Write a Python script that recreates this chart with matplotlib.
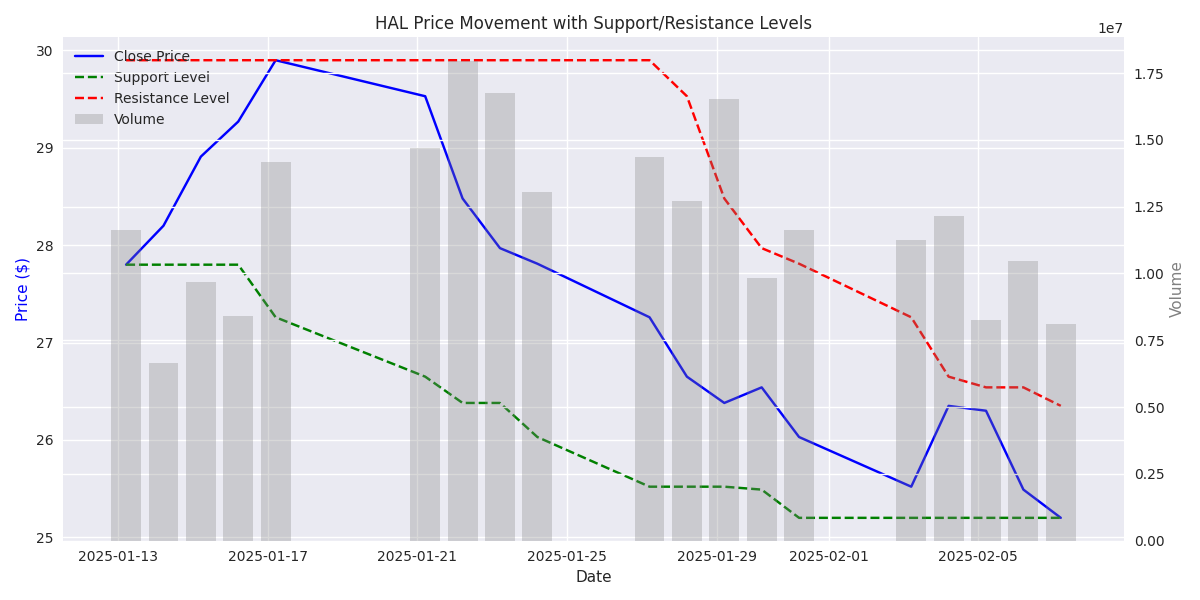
import matplotlib.pyplot as plt
import pandas as pd

# trading days (timestamps come in at 05:00 UTC)
dates = ['2025-01-13', '2025-01-14', '2025-01-15', '2025-01-16', '2025-01-17',
         '2025-01-21', '2025-01-22', '2025-01-23', '2025-01-24', '2025-01-27',
         '2025-01-28', '2025-01-29', '2025-01-30', '2025-01-31', '2025-02-03',
         '2025-02-04', '2025-02-05', '2025-02-06', '2025-02-07']
close = [27.80, 28.20, 28.91, 29.27, 29.90, 29.53, 28.48, 27.97, 27.81, 27.26,
         26.65, 26.38, 26.54, 26.03, 25.52, 26.35, 26.30, 25.49, 25.20]
support = [27.80, 27.80, 27.80, 27.80, 27.26, 26.65, 26.38, 26.38, 26.03, 25.52,
           25.52, 25.52, 25.49, 25.20, 25.20, 25.20, 25.20, 25.20, 25.20]
resistance = [29.90, 29.90, 29.90, 29.90, 29.90, 29.90, 29.90, 29.90, 29.90, 29.90,
              29.53, 28.48, 27.97, 27.81, 27.26, 26.65, 26.54, 26.54, 26.35]
volume = [11620000, 6640000, 9670000, 8400000, 14160000, 14690000, 17940000,
          16750000, 13040000, 14350000, 12700000, 16520000, 9820000, 11620000,
          11250000, 12140000, 8250000, 10460000, 8100000]

plt.style.use('seaborn-v0_8')
plt.rcParams['font.family'] = ['DejaVu Sans']

df = pd.DataFrame({'Close': close, 'Support': support,
                   'Resistance': resistance, 'Volume': volume})
df['Date'] = pd.to_datetime(dates) + pd.Timedelta(hours=5)

fig, ax1 = plt.subplots(figsize=(12, 6), dpi=100)
ax1.plot(df['Date'], df['Close'], color='blue', label='Close Price')
ax1.plot(df['Date'], df['Support'], 'g--', label='Support Level')
ax1.plot(df['Date'], df['Resistance'], 'r--', label='Resistance Level')
ax1.set_xlabel('Date')
ax1.set_ylabel('Price ($)', color='blue')

ax2 = ax1.twinx()
ax2.bar(df['Date'], df['Volume'], alpha=0.3, color='gray', label='Volume')
ax2.set_ylabel('Volume', color='gray')

lines1, labels1 = ax1.get_legend_handles_labels()
lines2, labels2 = ax2.get_legend_handles_labels()
ax1.legend(lines1 + lines2, labels1 + labels2, loc='upper left')

plt.title('HAL Price Movement with Support/Resistance Levels')
plt.tight_layout()
plt.savefig('out.png')
